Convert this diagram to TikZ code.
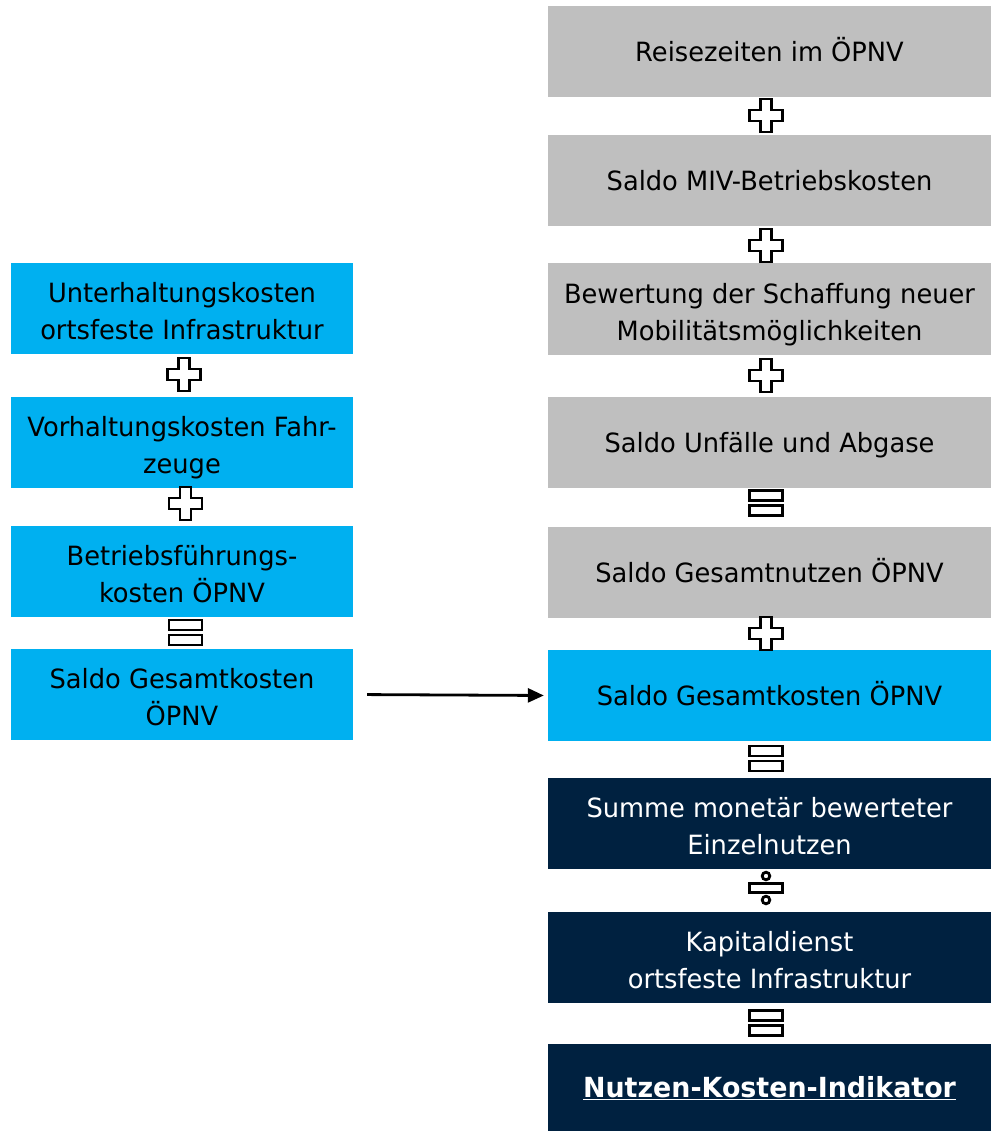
\documentclass[tikz,border=0pt]{standalone}
\usepackage{fontspec}
\setmainfont[FakeStretch=0.97]{DejaVu Sans}
\usetikzlibrary{arrows.meta}
\definecolor{boxgrey}{HTML}{BFBFBF}
\definecolor{boxblue}{HTML}{00B0F0}
\definecolor{boxnavy}{HTML}{002140}
\newcommand\myTopStrut{\rule{0pt}{32pt}}
\newcommand\myBotStrut{\rule[-7pt]{0pt}{7pt}}
\newcommand\myOneStrut{\rule[-7pt]{0pt}{34pt}}
\tikzset{
  basebox/.style={rectangle, inner sep=0pt, align=center,
    font=\fontsize{26.5}{37}\selectfont},
  rbox/.style={basebox, minimum width=443pt, minimum height=91pt},
  lbox/.style={basebox, minimum width=342pt, minimum height=91pt},
  greybox/.style={fill=boxgrey, text=black},
  bluebox/.style={fill=boxblue, text=black},
  navybox/.style={fill=boxnavy, text=white},
  symline/.style={draw=black, fill=white, line width=2.8pt, line join=miter},
  plussym/.pic={
    \path[symline] (-5.5,-16.5) -- (5.5,-16.5) -- (5.5,-5.5) -- (16.5,-5.5)
      -- (16.5,5.5) -- (5.5,5.5) -- (5.5,16.5) -- (-5.5,16.5) -- (-5.5,5.5)
      -- (-16.5,5.5) -- (-16.5,-5.5) -- (-5.5,-5.5) -- cycle;
  },
  eqsym/.pic={
    \path[symline] (-16.5,-12.5) rectangle (16.5,-2.5);
    \path[symline] (-16.5,2.5) rectangle (16.5,12.5);
  },
  divsym/.pic={
    \path[symline] (-16.5,-4.5) rectangle (16.5,4.5);
    \path[symline] (0,-12) circle[radius=3.8pt];
    \path[symline] (0,12) circle[radius=3.8pt];
  },
  conn/.style={line width=2.8pt, -{Triangle[length=16pt,width=14pt]}}
}
\begin{document}
\begin{tikzpicture}[x=1pt,y=-1pt]
\useasboundingbox[fill=white] (0,0) rectangle (991,1131);

% right column
\node[rbox,greybox] (r1) at (769.5,51.5) {\myOneStrut Reisezeiten im ÖPNV};
\node[rbox,greybox] (r2) at (769.5,180.5) {\myOneStrut Saldo MIV-Betriebskosten};
\node[rbox,greybox] (r3) at (769.5,309) {\myTopStrut Bewertung der Schaffung neuer\\Mobilitätsmöglichkeiten\myBotStrut};
\node[rbox,greybox] (r4) at (769.5,442.5) {\myOneStrut Saldo Unfälle und Abgase};
\node[rbox,greybox] (r5) at (769.5,572.5) {\myOneStrut Saldo Gesamtnutzen ÖPNV};
\node[rbox,bluebox] (r6) at (769.5,695.5) {\myOneStrut Saldo Gesamtkosten ÖPNV};
\node[rbox,navybox] (r7) at (769.5,823.5) {\myTopStrut Summe monetär bewerteter\\Einzelnutzen\myBotStrut};
\node[rbox,navybox] (r8) at (769.5,957.5) {\myTopStrut Kapitaldienst\\ortsfeste Infrastruktur\myBotStrut};
\node[rbox,navybox,minimum height=88pt] (r9) at (769.5,1087.5) {\myOneStrut{\fontsize{27.7}{37}\selectfont\bfseries\underline{Nutzen-Kosten-Indikator}}};

% left column
\node[lbox,bluebox] (l1) at (182,308.5) {\myTopStrut Unterhaltungskosten\\ortsfeste Infrastruktur\myBotStrut};
\node[lbox,bluebox] (l2) at (182,442) {\myTopStrut Vorhaltungskosten Fahr-\\zeuge\myBotStrut};
\node[lbox,bluebox] (l3) at (182,571.5) {\myTopStrut Betriebsführungs-\\kosten ÖPNV\myBotStrut};
\node[lbox,bluebox] (l4) at (182,694.5) {\myTopStrut Saldo Gesamtkosten\\ÖPNV\myBotStrut};

% operator symbols right
\pic at (766,115.5) {plussym};
\pic at (766,245.5) {plussym};
\pic at (766,375.5) {plussym};
\pic at (766,503) {eqsym};
\pic at (766,633.5) {plussym};
\pic at (766,758.5) {eqsym};
\pic at (766,888) {divsym};
\pic at (766,1023) {eqsym};

% operator symbols left
\pic at (184,374.5) {plussym};
\pic at (185.5,503.5) {plussym};
\pic at (185.5,632.5) {eqsym};

% connector
\draw[conn, shorten <=14pt, shorten >=4pt] (l4.east) -- (r6.west);
\end{tikzpicture}
\end{document}
